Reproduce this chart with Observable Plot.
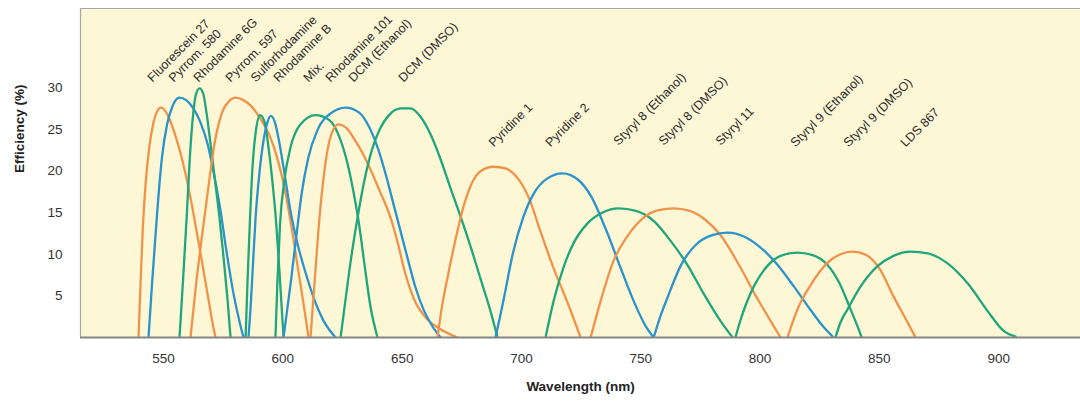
<!DOCTYPE html>
<html>
<head>
<meta charset="utf-8">
<script src="https://cdn.jsdelivr.net/npm/d3@7"></script>
<script src="https://cdn.jsdelivr.net/npm/@observablehq/plot@0.6"></script>
<style>
  html, body { margin: 0; padding: 0; background: #ffffff; }
  #chart svg { display: block; }
</style>
</head>
<body>
<div id="chart"></div>
<script>
// ---------- DATA ----------
const dyeNames = [
  "Fluorescein 27", "Pyrrom. 580", "Rhodamine 6G", "Pyrrom. 597", "Sulforhodamine",
  "Rhodamine B", "Mix.", "Rhodamine 101", "DCM (Ethanol)", "DCM (DMSO)",
  "Pyridine 1", "Pyridine 2", "Styryl 8 (Ethanol)", "Styryl 8 (DMSO)", "Styryl 11",
  "Styryl 9 (Ethanol)", "Styryl 9 (DMSO)", "LDS 867"
];

// [wavelength nm, efficiency %]
const fluorescein27 = [[539.5,0],[540.3,6],[541.3,13],[542.5,18.5],[544,22.8],[545.8,25.8],[547.4,27.2],[548.9,27.6],[550.5,27.3],[552.5,26.2],[555,24.2],[557.5,21.7],[560,18.6],[562.6,14.8],[565.5,10.1],[568.4,5.3],[570.5,1.8],[571.8,0]];
const pyrrom580 = [[543.7,0],[545.2,6.5],[547.2,14.5],[549.3,21.5],[551.5,25.6],[553.8,27.8],[556.6,28.8],[559.5,28.5],[562.5,27.5],[565.5,25.8],[568.5,23.2],[571.2,19.5],[573.9,15.2],[576.3,10.5],[579.3,5.3],[582,1.7],[583.5,0]];
const rhodamine6G = [[556.7,0],[558.2,7],[559.8,15],[561,21.5],[562.3,26.5],[563.6,29.2],[565.1,29.9],[566.6,29.3],[568,27],[569.8,23],[571.6,18.8],[573.4,14.5],[575.2,9.5],[576.8,4.6],[578.1,0]];
const pyrrom597 = [[561.3,0],[563.8,6.8],[566.5,13],[569,18.5],[571.5,23.5],[574.5,27],[577.5,28.4],[580.2,28.8],[583.5,28.5],[587,27.7],[590.5,26.3],[594.5,24.2],[598,21.2],[601,17.5],[603.8,13],[606.5,8],[608.8,3.8],[610.8,0]];
const sulforhodamine = [[584.4,0],[585.2,6.8],[586.2,14],[587.3,20.5],[588.7,24.8],[590.5,26.7],[592.4,25.8],[594,22.8],[595.6,18.8],[597,14.5],[598.6,7.8],[600.3,0]];
const rhodamineB = [[585.6,0],[586.4,3.2],[587.3,7.8],[588.6,14.5],[590.2,19.8],[592,23.8],[593.6,25.9],[595,26.6],[596.6,25.9],[598.6,23.3],[600.8,19.5],[603.2,15.2],[606.2,11.2],[609.5,7.8],[612.9,4.8],[617.1,2.0],[622.1,0]];
const mix = [[596.9,0],[597.7,6.5],[598.8,13.5],[600.6,18.8],[603.2,22.8],[607.4,25.6],[613.7,26.7],[619.5,26.1],[623.8,24],[627.1,20.9],[629.8,17.2],[632,13.5],[634.2,8.8],[636.8,3.6],[639.7,0]];
const rhodamine101 = [[611.6,0],[613.4,7],[615.4,14.5],[617.2,19.5],[619.2,23.2],[621.2,25],[623.3,25.6],[626.5,25.2],[630,23.8],[633.5,22.1],[637,20],[640.9,17.4],[645,14.5],[648.3,11.2],[651.2,7.8],[655,4.6],[660.5,2.2],[666.1,1.0],[673.2,0]];
const dcmEthanol = [[600.3,0],[603.4,6.8],[605.8,12.5],[608,17.5],[610.6,21.5],[614.5,24.9],[620,26.9],[626.3,27.6],[632,27],[636.3,25.2],[640,22.6],[643.3,19.4],[646.3,16.1],[649.3,12.8],[652.3,9.5],[655.6,6],[659.2,3.2],[663,1.2],[666.1,0]];
const dcmDMSO = [[624.2,0],[626.3,4.6],[628.6,9.5],[631.2,14.2],[634,18.6],[637.2,22.4],[640.6,25],[644.5,26.7],[649.5,27.5],[653.5,27.5],[657.7,26.5],[661.9,24.4],[666.1,21.4],[670.3,17.9],[674.5,14.5],[678.7,10.9],[682.9,7],[687,3.2],[690,0]];
const pyridine1 = [[664.8,0],[666.4,3.2],[669.3,7.6],[672.4,11.8],[675.5,15.5],[679,18.4],[683,20],[688.3,20.5],[693.3,20.3],[698.5,19.1],[703.5,16.5],[708,12.7],[713.5,8.3],[719.3,4.2],[724.8,0]];
const pyridine2 = [[689.1,0],[690.8,2.2],[692.7,4.8],[696.5,10.2],[700.7,14.4],[705.2,17.3],[710.9,19.1],[717.2,19.7],[723.5,19],[729.5,16.8],[735.5,12.9],[741.5,8.4],[747,4.4],[752,1.4],[755.4,0]];
const styryl8Ethanol = [[710.1,0],[713.5,4.4],[717.6,8.4],[721.8,11.3],[727.7,13.7],[734,15],[740.7,15.5],[748,15.2],[755.4,14.0],[762.5,11.6],[769.6,8.7],[776.3,5.3],[783.4,2.0],[788.5,0]];
const styryl8DMSO = [[729,0],[733.2,4.4],[738.6,9.2],[744.5,12.2],[751.2,14.4],[757.5,15.3],[763.7,15.5],[770.5,15.2],[776.8,14.2],[783.4,12.3],[791.2,8.7],[798.6,4.8],[804.4,2],[808.6,0]];
const styryl11 = [[755.4,0],[758.3,2.6],[761.5,5],[766.7,8.6],[773.3,11.2],[780,12.3],[786.4,12.6],[793.5,12.1],[800.2,10.8],[806.5,9],[814,6.2],[821.2,3.3],[826.2,1.4],[830.8,0]];
const styryl9Ethanol = [[789.7,0],[791.8,2.1],[794,3.9],[797.5,6.2],[803.1,8.6],[808.6,9.8],[815.7,10.2],[822,9.9],[828,8.8],[833.5,6.4],[837.9,3.4],[840.9,1.3],[842.6,0]];
const styryl9DMSO = [[811.5,0],[813.5,1.7],[816,3.6],[821.2,6.3],[828,8.9],[833.7,10],[838.8,10.3],[844.5,9.9],[850.2,8.2],[855.8,5],[861.5,2],[865.2,0]];
const lds867 = [[831.6,0],[833.7,1.8],[836.7,3.4],[842.1,6.1],[849,8.5],[855.9,9.8],[863.1,10.3],[870.2,10.1],[878.6,8.9],[887,6.5],[895.3,3.2],[902.1,0.8],[907.1,0.1]];

// label anchors (wavelength, efficiency) for each dye name
const labelWl  = [545.4, 554.3, 564.7, 578.1, 588.6, 598.2, 610.8, 620.0, 629.6, 650.6, 688.4, 712.2, 740.7, 759.6, 783.5, 814.9, 837.1, 861.0];
const labelEff = [30.6, 30.6, 30.6, 30.6, 30.6, 30.6, 30.6, 30.6, 30.6, 30.6, 22.8, 22.8, 23.0, 23.0, 23.0, 22.8, 22.8, 22.8];

const xTicks = [550, 600, 650, 700, 750, 800, 850, 900];
const yTicks = [5, 10, 15, 20, 25, 30];
const xTitle = "Wavelength (nm)";
const yTitle = "Efficiency (%)";

// ---------- BUILD ----------
const curves = [fluorescein27, pyrrom580, rhodamine6G, pyrrom597, sulforhodamine, rhodamineB, mix,
  rhodamine101, dcmEthanol, dcmDMSO, pyridine1, pyridine2, styryl8Ethanol, styryl8DMSO, styryl11,
  styryl9Ethanol, styryl9DMSO, lds867];
const rows = curves.flatMap((c, i) => c.map(([w, e]) => ({dye: dyeNames[i], wl: w, eff: e})));
const labels = dyeNames.map((n, i) => ({name: n, wl: labelWl[i], eff: labelEff[i]}));

const ORANGE = "#f0934a", BLUE = "#2a93cc", GREEN = "#1fa67c";
const palette = [ORANGE, BLUE, GREEN, ORANGE, GREEN, BLUE, GREEN, ORANGE, BLUE, GREEN,
  ORANGE, BLUE, GREEN, ORANGE, BLUE, GREEN, ORANGE, GREEN];

const xDomain = [515.2, 934.3];
const yDomain = [0, 39.5];

const chart = Plot.plot({
  width: 1080,
  height: 403,
  marginLeft: 80,
  marginRight: 0,
  marginTop: 8,
  marginBottom: 66,
  style: {fontFamily: "'Liberation Sans', Arial, sans-serif", fontSize: "13.5px", color: "#333", background: "#ffffff"},
  x: {domain: xDomain, ticks: xTicks, tickSize: 0, tickPadding: 16, label: null},
  y: {domain: yDomain, ticks: yTicks, tickSize: 0, tickPadding: 18, label: null},
  color: {domain: dyeNames, range: palette},
  marks: [
    Plot.frame({fill: "#fdf7d6", stroke: null}),
    Plot.ruleY([yDomain[1]], {stroke: "#a6a6a6", strokeWidth: 1.2}),
    Plot.ruleX([xDomain[0]], {stroke: "#a6a6a6", strokeWidth: 1.2}),
    Plot.line(rows, {x: "wl", y: "eff", z: "dye", stroke: "dye", strokeWidth: 2.3, curve: "monotone-x", clip: true}),
    Plot.ruleY([0], {stroke: "#858585", strokeWidth: 2}),
    Plot.text(labels, {x: "wl", y: "eff", text: "name", rotate: -45, textAnchor: "start", lineAnchor: "bottom", fontSize: 12.5, fill: "#2a2a2a"}),
    Plot.text([yTitle], {frameAnchor: "left", dx: -61, rotate: -90, text: d => d, fontWeight: "bold", fontSize: 13.5, fill: "#222"}),
    Plot.text([xTitle], {frameAnchor: "bottom", dy: 53, text: d => d, fontWeight: "bold", fontSize: 13.5, fill: "#222"})
  ]
});
document.getElementById("chart").appendChild(chart);
</script>
</body>
</html>
